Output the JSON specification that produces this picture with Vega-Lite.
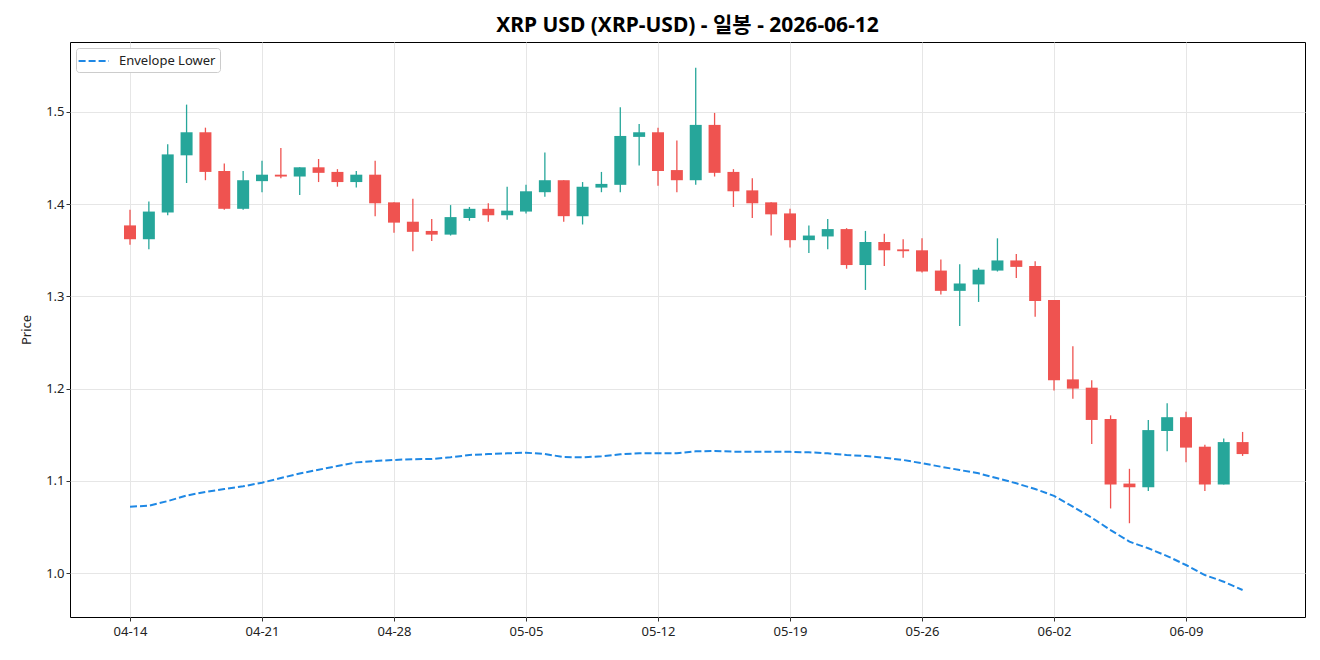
{
  "$schema": "https://vega.github.io/schema/vega-lite/v6.json",
  "width": 1235,
  "height": 575,
  "autosize": "none",
  "padding": {"left": 70, "top": 42, "right": 15, "bottom": 43},
  "background": "white",
  "title": {"text": "XRP USD (XRP-USD) - 일봉 - 2026-06-12", "font": "Noto Sans, Noto Sans CJK KR", "fontSize": 21, "fontWeight": "bold", "color": "#000000", "anchor": "middle", "offset": 6},
  "config": {
    "view": {"stroke": "#000000", "strokeWidth": 1},
    "font": "Noto Sans, Noto Sans CJK KR",
    "axis": {"grid": true, "gridColor": "#e6e6e6", "gridWidth": 1, "domain": false, "tickColor": "#333333", "tickSize": 4, "labelFont": "Noto Sans", "labelFontSize": 13, "labelColor": "#222222", "titleFont": "Noto Sans", "titleFontSize": 13, "titleFontWeight": "normal", "titleColor": "#222222"}
  },
  "data": {"values": [
    {"date": "2026-04-14", "open": 1.377, "high": 1.394, "low": 1.356, "close": 1.362, "env": 1.072},
    {"date": "2026-04-15", "open": 1.362, "high": 1.403, "low": 1.351, "close": 1.392, "env": 1.073},
    {"date": "2026-04-16", "open": 1.391, "high": 1.465, "low": 1.388, "close": 1.454, "env": 1.078},
    {"date": "2026-04-17", "open": 1.453, "high": 1.508, "low": 1.423, "close": 1.478, "env": 1.084},
    {"date": "2026-04-18", "open": 1.478, "high": 1.483, "low": 1.426, "close": 1.435, "env": 1.088},
    {"date": "2026-04-19", "open": 1.436, "high": 1.444, "low": 1.394, "close": 1.395, "env": 1.091},
    {"date": "2026-04-20", "open": 1.395, "high": 1.436, "low": 1.394, "close": 1.426, "env": 1.094},
    {"date": "2026-04-21", "open": 1.425, "high": 1.447, "low": 1.413, "close": 1.432, "env": 1.098},
    {"date": "2026-04-22", "open": 1.432, "high": 1.461, "low": 1.428, "close": 1.430, "env": 1.103},
    {"date": "2026-04-23", "open": 1.430, "high": 1.440, "low": 1.410, "close": 1.440, "env": 1.108},
    {"date": "2026-04-24", "open": 1.440, "high": 1.449, "low": 1.424, "close": 1.434, "env": 1.112},
    {"date": "2026-04-25", "open": 1.435, "high": 1.438, "low": 1.419, "close": 1.424, "env": 1.116},
    {"date": "2026-04-26", "open": 1.424, "high": 1.436, "low": 1.418, "close": 1.432, "env": 1.120},
    {"date": "2026-04-27", "open": 1.432, "high": 1.447, "low": 1.387, "close": 1.401, "env": 1.1215},
    {"date": "2026-04-28", "open": 1.402, "high": 1.402, "low": 1.369, "close": 1.380, "env": 1.1226},
    {"date": "2026-04-29", "open": 1.381, "high": 1.406, "low": 1.349, "close": 1.370, "env": 1.1235},
    {"date": "2026-04-30", "open": 1.371, "high": 1.384, "low": 1.360, "close": 1.367, "env": 1.1236},
    {"date": "2026-05-01", "open": 1.367, "high": 1.399, "low": 1.366, "close": 1.386, "env": 1.1255},
    {"date": "2026-05-02", "open": 1.385, "high": 1.397, "low": 1.382, "close": 1.395, "env": 1.128},
    {"date": "2026-05-03", "open": 1.395, "high": 1.401, "low": 1.381, "close": 1.388, "env": 1.129},
    {"date": "2026-05-04", "open": 1.388, "high": 1.419, "low": 1.383, "close": 1.393, "env": 1.1298},
    {"date": "2026-05-05", "open": 1.392, "high": 1.421, "low": 1.390, "close": 1.414, "env": 1.1305},
    {"date": "2026-05-06", "open": 1.413, "high": 1.456, "low": 1.408, "close": 1.426, "env": 1.129},
    {"date": "2026-05-07", "open": 1.426, "high": 1.426, "low": 1.381, "close": 1.387, "env": 1.1258},
    {"date": "2026-05-08", "open": 1.387, "high": 1.424, "low": 1.378, "close": 1.419, "env": 1.1255},
    {"date": "2026-05-09", "open": 1.418, "high": 1.435, "low": 1.413, "close": 1.422, "env": 1.1266},
    {"date": "2026-05-10", "open": 1.421, "high": 1.505, "low": 1.413, "close": 1.474, "env": 1.1287},
    {"date": "2026-05-11", "open": 1.473, "high": 1.487, "low": 1.442, "close": 1.478, "env": 1.1298},
    {"date": "2026-05-12", "open": 1.478, "high": 1.483, "low": 1.420, "close": 1.436, "env": 1.130},
    {"date": "2026-05-13", "open": 1.437, "high": 1.469, "low": 1.413, "close": 1.426, "env": 1.1298},
    {"date": "2026-05-14", "open": 1.426, "high": 1.548, "low": 1.421, "close": 1.486, "env": 1.132},
    {"date": "2026-05-15", "open": 1.486, "high": 1.499, "low": 1.430, "close": 1.434, "env": 1.1323},
    {"date": "2026-05-16", "open": 1.435, "high": 1.438, "low": 1.397, "close": 1.414, "env": 1.1316},
    {"date": "2026-05-17", "open": 1.415, "high": 1.428, "low": 1.385, "close": 1.401, "env": 1.1316},
    {"date": "2026-05-18", "open": 1.402, "high": 1.402, "low": 1.366, "close": 1.389, "env": 1.1316},
    {"date": "2026-05-19", "open": 1.390, "high": 1.395, "low": 1.353, "close": 1.361, "env": 1.1314},
    {"date": "2026-05-20", "open": 1.361, "high": 1.377, "low": 1.347, "close": 1.366, "env": 1.1309},
    {"date": "2026-05-21", "open": 1.365, "high": 1.384, "low": 1.351, "close": 1.373, "env": 1.1298},
    {"date": "2026-05-22", "open": 1.373, "high": 1.374, "low": 1.330, "close": 1.334, "env": 1.128},
    {"date": "2026-05-23", "open": 1.334, "high": 1.371, "low": 1.307, "close": 1.359, "env": 1.1269},
    {"date": "2026-05-24", "open": 1.359, "high": 1.368, "low": 1.333, "close": 1.350, "env": 1.125},
    {"date": "2026-05-25", "open": 1.351, "high": 1.362, "low": 1.342, "close": 1.349, "env": 1.1226},
    {"date": "2026-05-26", "open": 1.350, "high": 1.363, "low": 1.326, "close": 1.327, "env": 1.119},
    {"date": "2026-05-27", "open": 1.328, "high": 1.340, "low": 1.302, "close": 1.306, "env": 1.1153},
    {"date": "2026-05-28", "open": 1.306, "high": 1.335, "low": 1.268, "close": 1.314, "env": 1.1117},
    {"date": "2026-05-29", "open": 1.313, "high": 1.331, "low": 1.294, "close": 1.329, "env": 1.1081},
    {"date": "2026-05-30", "open": 1.328, "high": 1.363, "low": 1.327, "close": 1.339, "env": 1.1027},
    {"date": "2026-05-31", "open": 1.339, "high": 1.346, "low": 1.320, "close": 1.332, "env": 1.0973},
    {"date": "2026-06-01", "open": 1.333, "high": 1.338, "low": 1.278, "close": 1.295, "env": 1.0911},
    {"date": "2026-06-02", "open": 1.296, "high": 1.296, "low": 1.198, "close": 1.209, "env": 1.0837},
    {"date": "2026-06-03", "open": 1.210, "high": 1.246, "low": 1.189, "close": 1.200, "env": 1.072},
    {"date": "2026-06-04", "open": 1.201, "high": 1.209, "low": 1.140, "close": 1.166, "env": 1.060},
    {"date": "2026-06-05", "open": 1.167, "high": 1.171, "low": 1.070, "close": 1.096, "env": 1.0466},
    {"date": "2026-06-06", "open": 1.097, "high": 1.113, "low": 1.054, "close": 1.093, "env": 1.034},
    {"date": "2026-06-07", "open": 1.093, "high": 1.166, "low": 1.089, "close": 1.155, "env": 1.0268},
    {"date": "2026-06-08", "open": 1.154, "high": 1.184, "low": 1.132, "close": 1.169, "env": 1.0184},
    {"date": "2026-06-09", "open": 1.169, "high": 1.175, "low": 1.120, "close": 1.136, "env": 1.0087},
    {"date": "2026-06-10", "open": 1.137, "high": 1.139, "low": 1.089, "close": 1.096, "env": 0.9978},
    {"date": "2026-06-11", "open": 1.096, "high": 1.146, "low": 1.096, "close": 1.142, "env": 0.9906},
    {"date": "2026-06-12", "open": 1.142, "high": 1.153, "low": 1.127, "close": 1.129, "env": 0.9816}
  ]},
  "encoding": {
    "x": {
      "field": "date", "type": "temporal",
      "scale": {"type": "utc", "padding": 0, "domain": [
        {"year": 2026, "month": 4, "date": 10, "hours": 19, "minutes": 38, "utc": true},
        {"year": 2026, "month": 6, "date": 15, "hours": 7, "minutes": 26, "utc": true}
      ]},
      "axis": {
        "title": null, "labelExpr": "utcFormat(datum.value, '%m-%d')", "labelPadding": 4,
        "values": [
          {"year": 2026, "month": 4, "date": 14, "utc": true},
          {"year": 2026, "month": 4, "date": 21, "utc": true},
          {"year": 2026, "month": 4, "date": 28, "utc": true},
          {"year": 2026, "month": 5, "date": 5, "utc": true},
          {"year": 2026, "month": 5, "date": 12, "utc": true},
          {"year": 2026, "month": 5, "date": 19, "utc": true},
          {"year": 2026, "month": 5, "date": 26, "utc": true},
          {"year": 2026, "month": 6, "date": 2, "utc": true},
          {"year": 2026, "month": 6, "date": 9, "utc": true}
        ]
      }
    }
  },
  "layer": [
    {
      "mark": {"type": "line", "strokeWidth": 2, "strokeDash": [7, 3]},
      "encoding": {
        "y": {"field": "env", "type": "quantitative", "title": "Price", "scale": {"domain": [0.9523, 1.5759], "nice": false, "zero": false}, "axis": {"values": [1.0, 1.1, 1.2, 1.3, 1.4, 1.5], "format": ".1f", "titlePadding": 12}},
        "color": {"datum": "Envelope Lower", "type": "nominal", "scale": {"range": ["#1e88e5"]}, "legend": {"title": null, "orient": "top-left", "offset": 6, "padding": 4, "strokeColor": "#cccccc", "fillColor": "#ffffff", "cornerRadius": 3, "symbolType": "M-1.3,0H2.5", "symbolSize": 256, "symbolStrokeWidth": 2, "symbolDash": [7, 3], "labelFont": "Noto Sans", "labelFontSize": 13, "labelColor": "#222222", "labelOffset": 21}}
      }
    },
    {
      "mark": {"type": "rule", "strokeWidth": 1.3},
      "encoding": {
        "y": {"field": "low", "type": "quantitative", "title": "Price"},
        "y2": {"field": "high"},
        "color": {"condition": {"test": "datum.close >= datum.open", "value": "#26a69a"}, "value": "#ef5350"}
      }
    },
    {
      "mark": {"type": "bar", "width": 12},
      "encoding": {
        "y": {"field": "open", "type": "quantitative", "title": "Price"},
        "y2": {"field": "close"},
        "color": {"condition": {"test": "datum.close >= datum.open", "value": "#26a69a"}, "value": "#ef5350"}
      }
    }
  ]
}
